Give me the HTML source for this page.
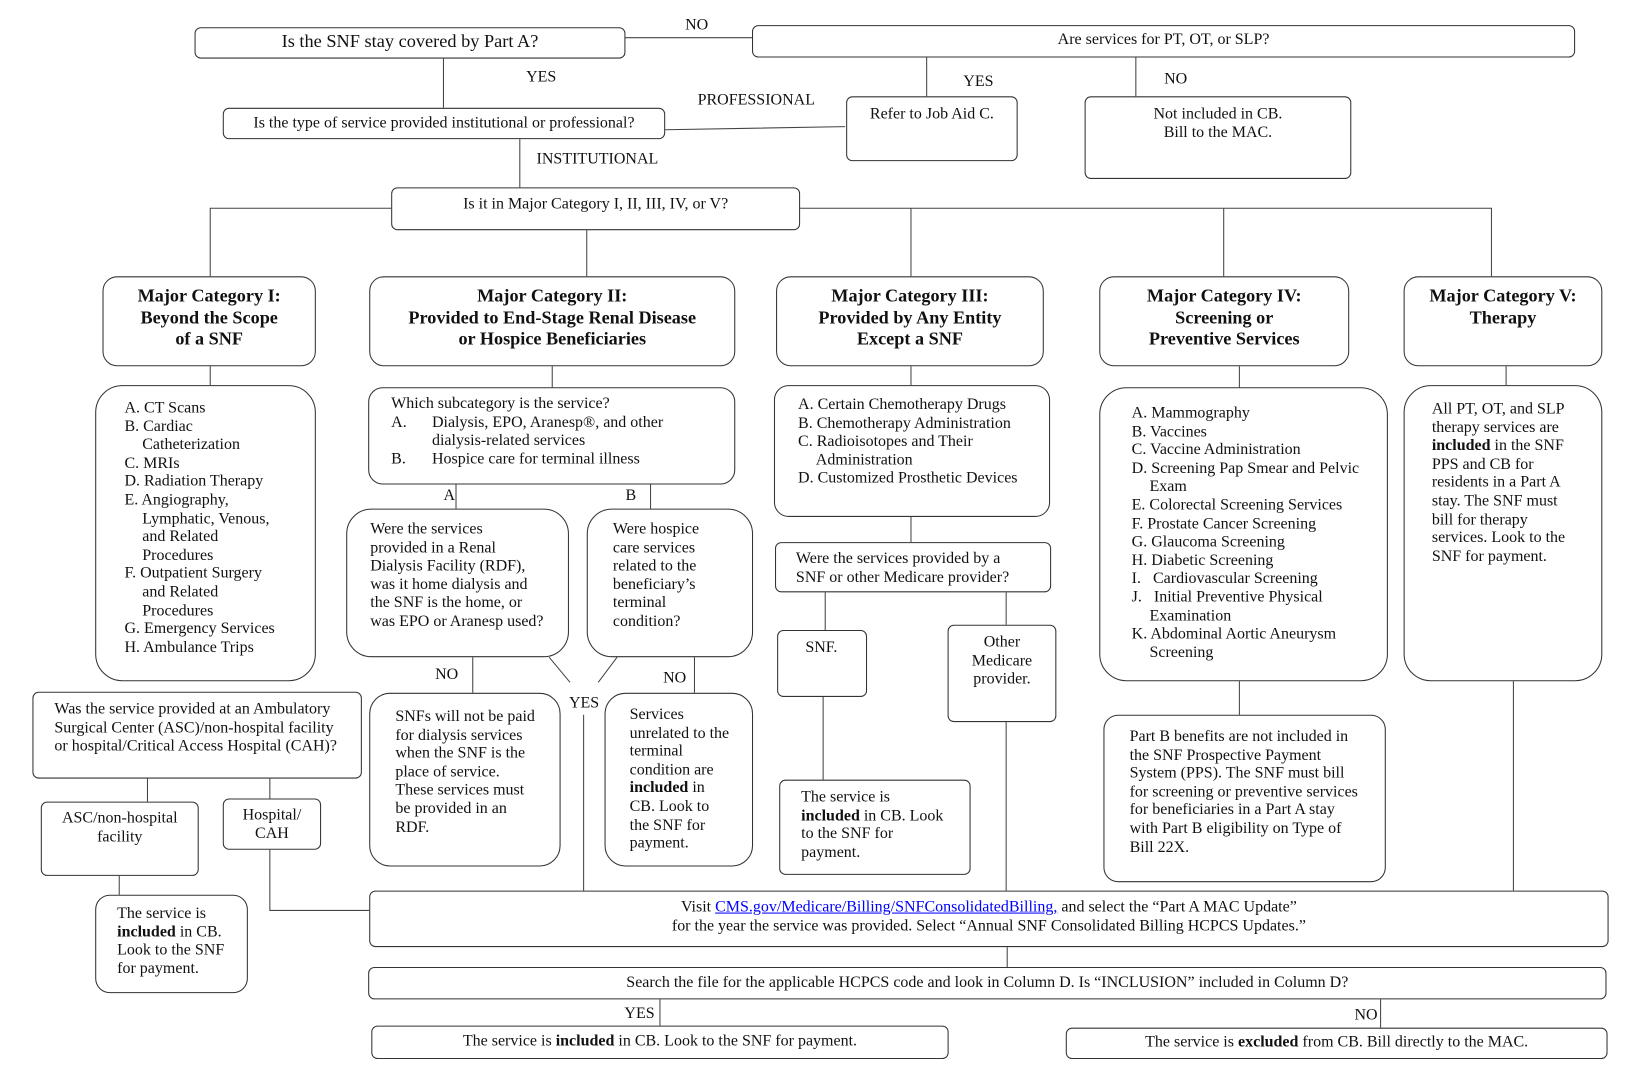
<!DOCTYPE html>
<html><head><meta charset="utf-8"><style>
html,body{margin:0;padding:0;background:#fff;width:1640px;height:1080px;overflow:hidden}
#c{position:absolute;left:0;top:0;width:1568px;height:1032px;transform-origin:0 0;transform:scale(1.0459,1.0465);font-family:"Liberation Serif",serif;font-size:15.3px;line-height:17.6px;color:#111}
.b{position:absolute;border:1px solid #333;border-radius:14px;box-sizing:border-box;background:#fff;white-space:nowrap}
.s{border-radius:6px}
.t{position:absolute;white-space:nowrap}
.c{text-align:center}
.h{font-weight:bold;font-size:17.4px;line-height:20.5px;text-align:center;padding-top:8px}
.i{padding-left:17px}
svg{position:absolute;left:0;top:0}
a{color:#00f;text-decoration:underline}
</style></head><body><div id="c">
<svg width="1568" height="1032"><g stroke="#444" stroke-width="1" fill="none">
<path d="M598 36H719M424 56V103M636 124L808 121M886 55V92M1086 55V92M497 133V179"/>
<path d="M201 264V199H374M765 199H1426V264M561 220V264M871 199V264M1170 199V264"/>
<path d="M201 350V368M528 350V370M871 350V368M1185 350V370M1440 350V368"/>
<path d="M436 463V486M622 463V486M452 628V662M664 628V662M525 628L545 652M590 628L572 652M558 683V851"/>
<path d="M871 494V518M789 566V602M962 566V597M787 666V745M962 690V851M1185 651V683M1447 651V851"/>
<path d="M141 744V766M258 744V766M114 837V855M258 812V870H353M963 905V924M631 955V980M1320 955V982"/>
</g></svg>
<div class="t" style="left:655px;top:15px">NO</div>
<div class="t" style="left:503px;top:65px">YES</div>
<div class="t" style="left:667px;top:87px">PROFESSIONAL</div>
<div class="t" style="left:921px;top:69px">YES</div>
<div class="t" style="left:1113px;top:67px">NO</div>
<div class="t" style="left:513px;top:143px">INSTITUTIONAL</div>
<div class="t" style="left:424px;top:465px">A</div>
<div class="t" style="left:598px;top:465px">B</div>
<div class="t" style="left:416px;top:636px">NO</div>
<div class="t" style="left:634px;top:639px">NO</div>
<div class="t" style="left:544px;top:663px">YES</div>
<div class="t" style="left:597px;top:960px">YES</div>
<div class="t" style="left:1295px;top:961px">NO</div>

<div class="b s c" style="left:186px;top:26px;width:412px;height:30px;font-size:17.5px;padding-top:4px">Is the SNF stay covered by Part A?</div>
<div class="b s c" style="left:719px;top:24px;width:787px;height:31px;padding-top:4px">Are services for PT, OT, or SLP?</div>
<div class="b s c" style="left:213px;top:103px;width:423px;height:30px;padding-top:5px">Is the type of service provided institutional or professional?</div>
<div class="b s c" style="left:809px;top:92px;width:164px;height:62px;padding-top:7px">Refer to Job Aid C.</div>
<div class="b s c" style="left:1037px;top:92px;width:255px;height:79px;padding-top:7px">Not included in CB.<br>Bill to the MAC.</div>
<div class="b s c" style="left:374px;top:179px;width:391px;height:41px;padding-top:6px">Is it in Major Category I, II, III, IV, or V?</div>

<div class="b h" style="left:98px;top:264px;width:204px;height:86px;padding-top:7px">Major Category I:<br>Beyond the Scope<br>of a SNF</div>
<div class="b h" style="left:353px;top:264px;width:350px;height:86px;padding-top:7px">Major Category II:<br>Provided to End-Stage Renal Disease<br>or Hospice Beneficiaries</div>
<div class="b h" style="left:742px;top:264px;width:256px;height:86px;padding-top:7px">Major Category III:<br>Provided by Any Entity<br>Except a SNF</div>
<div class="b h" style="left:1051px;top:264px;width:239px;height:86px;padding-top:7px">Major Category IV:<br>Screening or<br>Preventive Services</div>
<div class="b h" style="left:1342px;top:264px;width:190px;height:86px;padding-top:7px">Major Category V:<br>Therapy</div>

<div class="b" style="left:91px;top:368px;width:211px;height:283px;padding:12px 0 0 27px;border-radius:26px"><div>A. CT Scans</div><div>B. Cardiac</div><div class="i">Catheterization</div><div>C. MRIs</div><div>D. Radiation Therapy</div><div>E. Angiography,</div><div class="i">Lymphatic, Venous,</div><div class="i">and Related</div><div class="i">Procedures</div><div>F. Outpatient Surgery</div><div class="i">and Related</div><div class="i">Procedures</div><div>G. Emergency Services</div><div>H. Ambulance Trips</div></div>
<div class="b" style="left:352px;top:370px;width:351px;height:93px;padding:6px 0 0 21px">Which subcategory is the service?<div>A.<span style="position:absolute;left:60px">Dialysis, EPO, Aranesp®, and other</span></div><div style="padding-left:39px">dialysis-related services</div><div>B.<span style="position:absolute;left:60px">Hospice care for terminal illness</span></div></div>
<div class="b" style="left:740px;top:368px;width:264px;height:126px;padding:9px 0 0 22px"><div>A. Certain Chemotherapy Drugs</div><div>B. Chemotherapy Administration</div><div>C. Radioisotopes and Their</div><div class="i">Administration</div><div>D. Customized Prosthetic Devices</div></div>
<div class="b" style="left:1051px;top:370px;width:276px;height:281px;padding:15px 0 0 30px;border-radius:26px"><div>A. Mammography</div><div>B. Vaccines</div><div>C. Vaccine Administration</div><div>D. Screening Pap Smear and Pelvic</div><div class="i">Exam</div><div>E. Colorectal Screening Services</div><div>F. Prostate Cancer Screening</div><div>G. Glaucoma Screening</div><div>H. Diabetic Screening</div><div>I.&nbsp;&nbsp; Cardiovascular Screening</div><div>J.&nbsp;&nbsp; Initial Preventive Physical</div><div class="i">Examination</div><div>K. Abdominal Aortic Aneurysm</div><div class="i">Screening</div></div>
<div class="b" style="left:1342px;top:368px;width:190px;height:283px;padding:13px 0 0 26px;border-radius:26px">All PT, OT, and SLP<br>therapy services are<br><b>included</b> in the SNF<br>PPS and CB for<br>residents in a Part A<br>stay. The SNF must<br>bill for therapy<br>services. Look to the<br>SNF for payment.</div>

<div class="b" style="left:331px;top:486px;width:213px;height:142px;padding:10px 0 0 22px;border-radius:24px">Were the services<br>provided in a Renal<br>Dialysis Facility (RDF),<br>was it home dialysis and<br>the SNF is the home, or<br>was EPO or Aranesp used?</div>
<div class="b" style="left:561px;top:486px;width:159px;height:142px;padding:10px 0 0 24px;border-radius:24px">Were hospice<br>care services<br>related to the<br>beneficiary’s<br>terminal<br>condition?</div>
<div class="b" style="left:353px;top:662px;width:183px;height:166px;padding:13px 0 0 24px;border-radius:20px">SNFs will not be paid<br>for dialysis services<br>when the SNF is the<br>place of service.<br>These services must<br>be provided in an<br>RDF.</div>
<div class="b" style="left:578px;top:662px;width:142px;height:166px;padding:11px 0 0 23px;border-radius:20px">Services<br>unrelated to the<br>terminal<br>condition are<br><b>included</b> in<br>CB. Look to<br>the SNF for<br>payment.</div>

<div class="b s" style="left:741px;top:518px;width:264px;height:48px;padding:6px 0 0 19px">Were the services provided by a<br>SNF or other Medicare provider?</div>
<div class="b s" style="left:743px;top:602px;width:86px;height:64px;padding:7px 0 0 26px">SNF.</div>
<div class="b s c" style="left:906px;top:597px;width:104px;height:93px;padding-top:7px">Other<br>Medicare<br>provider.</div>
<div class="b s" style="left:745px;top:745px;width:183px;height:91px;padding:7px 0 0 20px">The service is<br><b>included</b> in CB. Look<br>to the SNF for<br>payment.</div>

<div class="b" style="left:1055px;top:683px;width:270px;height:160px;padding:11px 0 0 24px">Part B benefits are not included in<br>the SNF Prospective Payment<br>System (PPS). The SNF must bill<br>for screening or preventive services<br>for beneficiaries in a Part A stay<br>with Part B eligibility on Type of<br>Bill 22X.</div>

<div class="b s" style="left:31px;top:661px;width:315px;height:83px;padding:7px 0 0 20px">Was the service provided at an Ambulatory<br>Surgical Center (ASC)/non-hospital facility<br>or hospital/Critical Access Hospital (CAH)?</div>
<div class="b s c" style="left:39px;top:766px;width:151px;height:71px;padding-top:6px">ASC/non-hospital<br>facility</div>
<div class="b s c" style="left:213px;top:763px;width:94px;height:49px;padding-top:6px">Hospital/<br>CAH</div>
<div class="b" style="left:91px;top:855px;width:146px;height:94px;padding:8px 0 0 20px">The service is<br><b>included</b> in CB.<br>Look to the SNF<br>for payment.</div>

<div class="b s c" style="left:353px;top:851px;width:1185px;height:54px;padding-top:6px">Visit <a>CMS.gov/Medicare/Billing/SNFConsolidatedBilling,</a> and select the “Part A MAC Update”<br>for the year the service was provided. Select “Annual SNF Consolidated Billing HCPCS Updates.”</div>
<div class="b s c" style="left:352px;top:924px;width:1184px;height:31px;padding-top:5px">Search the file for the applicable HCPCS code and look in Column D. Is “INCLUSION” included in Column D?</div>
<div class="b s c" style="left:355px;top:980px;width:552px;height:32px;padding-top:5px">The service is <b>included</b> in CB. Look to the SNF for payment.</div>
<div class="b s c" style="left:1019px;top:982px;width:518px;height:30px;padding-top:4px">The service is <b>excluded</b> from CB. Bill directly to the MAC.</div>
</div></body></html>
